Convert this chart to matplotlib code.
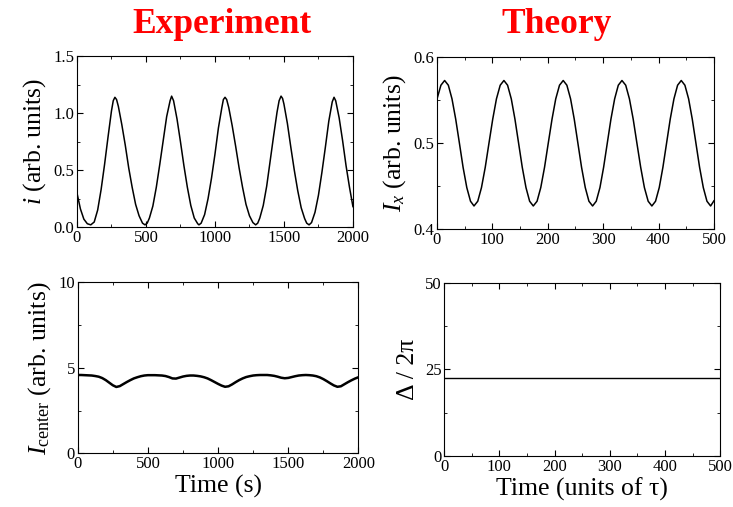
import numpy as np
import matplotlib
matplotlib.use("Agg")
import matplotlib.pyplot as plt
from matplotlib.ticker import MultipleLocator

plt.rcParams['font.family'] = ['Liberation Serif', 'DejaVu Serif']
plt.rcParams['mathtext.fontset'] = 'custom'
plt.rcParams['mathtext.rm'] = 'Liberation Serif'
plt.rcParams['mathtext.it'] = 'Liberation Serif:italic'

# Experiment: current i vs time (s)
exp_t = [0, 25, 50, 75, 100, 125, 150, 175, 200, 225, 250, 263, 275,
         287, 300, 325, 350, 375, 400, 425, 450, 475, 493, 509,
         525, 550, 575, 600, 625, 650, 675, 686,
         700, 725, 750, 775, 800, 825, 850, 875, 884,
         900, 925, 950, 975, 1000, 1025, 1050, 1061, 1073,
         1085, 1100, 1125, 1150, 1175, 1200, 1225, 1250, 1275, 1295, 1310,
         1325, 1350, 1375, 1400, 1425, 1450, 1465, 1479,
         1490, 1500, 1525, 1550, 1575, 1600, 1625, 1650, 1665, 1682,
         1700, 1725, 1750, 1775, 1800, 1825, 1850, 1863,
         1875, 1900, 1925, 1950, 1975, 2000]
exp_i = [0.30, 0.16, 0.07, 0.03, 0.02, 0.045, 0.15, 0.33, 0.55, 0.79, 1.02, 1.11, 1.14,
         1.12, 1.06, 0.90, 0.72, 0.52, 0.35, 0.20, 0.10, 0.035, 0.02, 0.035,
         0.08, 0.185, 0.35, 0.55, 0.76, 0.97, 1.11, 1.15,
         1.11, 0.95, 0.75, 0.54, 0.35, 0.19, 0.08, 0.03, 0.02,
         0.035, 0.11, 0.25, 0.43, 0.64, 0.87, 1.05, 1.12, 1.14,
         1.12, 1.05, 0.89, 0.71, 0.52, 0.35, 0.20, 0.10, 0.04, 0.02, 0.035,
         0.08, 0.19, 0.36, 0.58, 0.80, 1.01, 1.11, 1.15,
         1.13, 1.08, 0.91, 0.70, 0.50, 0.32, 0.17, 0.075, 0.035, 0.02,
         0.04, 0.13, 0.28, 0.48, 0.70, 0.93, 1.10, 1.14,
         1.11, 0.96, 0.76, 0.54, 0.35, 0.18]

# Experiment: center intensity vs time (s)
ctr_t = list(range(0, 2001, 25))
ctr_I = [4.58, 4.58, 4.57, 4.56, 4.55, 4.52, 4.48, 4.40, 4.28, 4.13, 3.98, 3.88,
         3.93, 4.05, 4.17, 4.28, 4.38, 4.45, 4.51, 4.55, 4.57, 4.57, 4.57, 4.56,
         4.55, 4.52, 4.46, 4.38, 4.37, 4.43, 4.49, 4.53, 4.55, 4.55, 4.53, 4.50,
         4.45, 4.38, 4.28, 4.17, 4.06, 3.96, 3.89, 3.92, 4.03, 4.16, 4.28, 4.38,
         4.46, 4.51, 4.55, 4.57, 4.58, 4.58, 4.58, 4.56, 4.53, 4.48, 4.42, 4.39,
         4.41, 4.46, 4.51, 4.55, 4.57, 4.58, 4.57, 4.55, 4.51, 4.44, 4.34, 4.22,
         4.09, 3.97, 3.89, 3.92, 4.04, 4.16, 4.27, 4.37, 4.45]

# Theory: I_x vs time (units of tau)
th_t = [0, 7.3, 14.0, 20.7, 27.3, 34.0, 40.7, 47.3, 54.0, 60.7, 67.0,
        73.8, 80.5, 87.3, 94.0, 100.8, 107.5, 114.3, 121.0,
        127.6, 134.3, 140.9, 147.5, 154.1, 160.8, 167.4, 174.0,
        180.8, 187.5, 194.3, 201.0, 207.8, 214.5, 221.3, 228.0,
        234.6, 241.3, 247.9, 254.5, 261.1, 267.8, 274.4, 281.0,
        287.6, 294.3, 300.9, 307.5, 314.1, 320.8, 327.4, 334.0,
        340.8, 347.5, 354.3, 361.0, 367.8, 374.5, 381.3, 388.0,
        394.6, 401.3, 407.9, 414.5, 421.1, 427.8, 434.4, 441.0,
        447.6, 454.3, 460.9, 467.5, 474.1, 480.8, 487.4, 494.0, 500.0]
fall = [0.5675, 0.5516, 0.528, 0.500, 0.472, 0.4484, 0.4325, 0.427]
rise = [0.4325, 0.4484, 0.472, 0.500, 0.528, 0.5516, 0.5675, 0.573]
th_Ix = ([0.551, 0.5675, 0.573] + fall + rise + fall + rise + fall
         + rise + fall + rise + fall + [0.433])[:len(th_t)]

# Theory: detuning
det_t = [0, 500]
det_val = [22.5, 22.5]

fig = plt.figure(figsize=(7.33, 5.07), dpi=100)
ax1 = fig.add_axes([0.105, 0.552, 0.3765, 0.337])
ax2 = fig.add_axes([0.596, 0.548, 0.378, 0.339])
ax3 = fig.add_axes([0.106, 0.106, 0.383, 0.337])
ax4 = fig.add_axes([0.606, 0.101, 0.3765, 0.341])

ax1.plot(exp_t, exp_i, color='black', lw=1.1)
ax2.plot(th_t, th_Ix, color='black', lw=1.1)
ax3.plot(ctr_t, ctr_I, color='black', lw=1.8)
ax4.plot(det_t, det_val, color='black', lw=1.0)

ax1.set_xlim(0, 2000); ax1.set_ylim(0, 1.5)
ax2.set_xlim(0, 500); ax2.set_ylim(0.4, 0.6)
ax3.set_xlim(0, 2000); ax3.set_ylim(0, 10)
ax4.set_xlim(0, 500); ax4.set_ylim(0, 50)

for ax, xm, xn, ym, yn in [(ax1, 500, 250, 0.5, 0.25), (ax2, 100, 50, 0.1, 0.05),
                          (ax3, 500, 250, 5, 2.5), (ax4, 100, 50, 25, 12.5)]:
    ax.xaxis.set_major_locator(MultipleLocator(xm))
    ax.xaxis.set_minor_locator(MultipleLocator(xn))
    ax.yaxis.set_major_locator(MultipleLocator(ym))
    ax.yaxis.set_minor_locator(MultipleLocator(yn))
    ax.tick_params(which='both', direction='in', top=True, right=True,
                   labelsize=12, pad=2)
    ax.tick_params(which='major', length=4)
    ax.tick_params(which='minor', length=2.5)

ax1.yaxis.set_major_formatter(matplotlib.ticker.FormatStrFormatter('%.1f'))
ax2.yaxis.set_major_formatter(matplotlib.ticker.FormatStrFormatter('%.1f'))

ax1.set_ylabel(r'$i$ (arb. units)', fontsize=18.5, labelpad=4)
ax2.set_ylabel(r'$I_x$ (arb. units)', fontsize=18.5, labelpad=4)
ax3.set_ylabel(r'$I_{\mathrm{center}}$ (arb. units)', fontsize=18.5, labelpad=4)
ax4.set_ylabel('Δ / 2π', fontsize=18.5, labelpad=4)
ax3.set_xlabel('Time (s)', fontsize=18.5, labelpad=2)
ax4.set_xlabel('Time (units of τ)', fontsize=18.5, labelpad=2)

fig.text(222 / 733, 1 - 33 / 507, 'Experiment', color='red', fontsize=25.5,
         fontweight='bold', ha='center', va='baseline')
fig.text(557 / 733, 1 - 33 / 507, 'Theory', color='red', fontsize=25.5,
         fontweight='bold', ha='center', va='baseline')

fig.savefig('out.png', dpi=100)
